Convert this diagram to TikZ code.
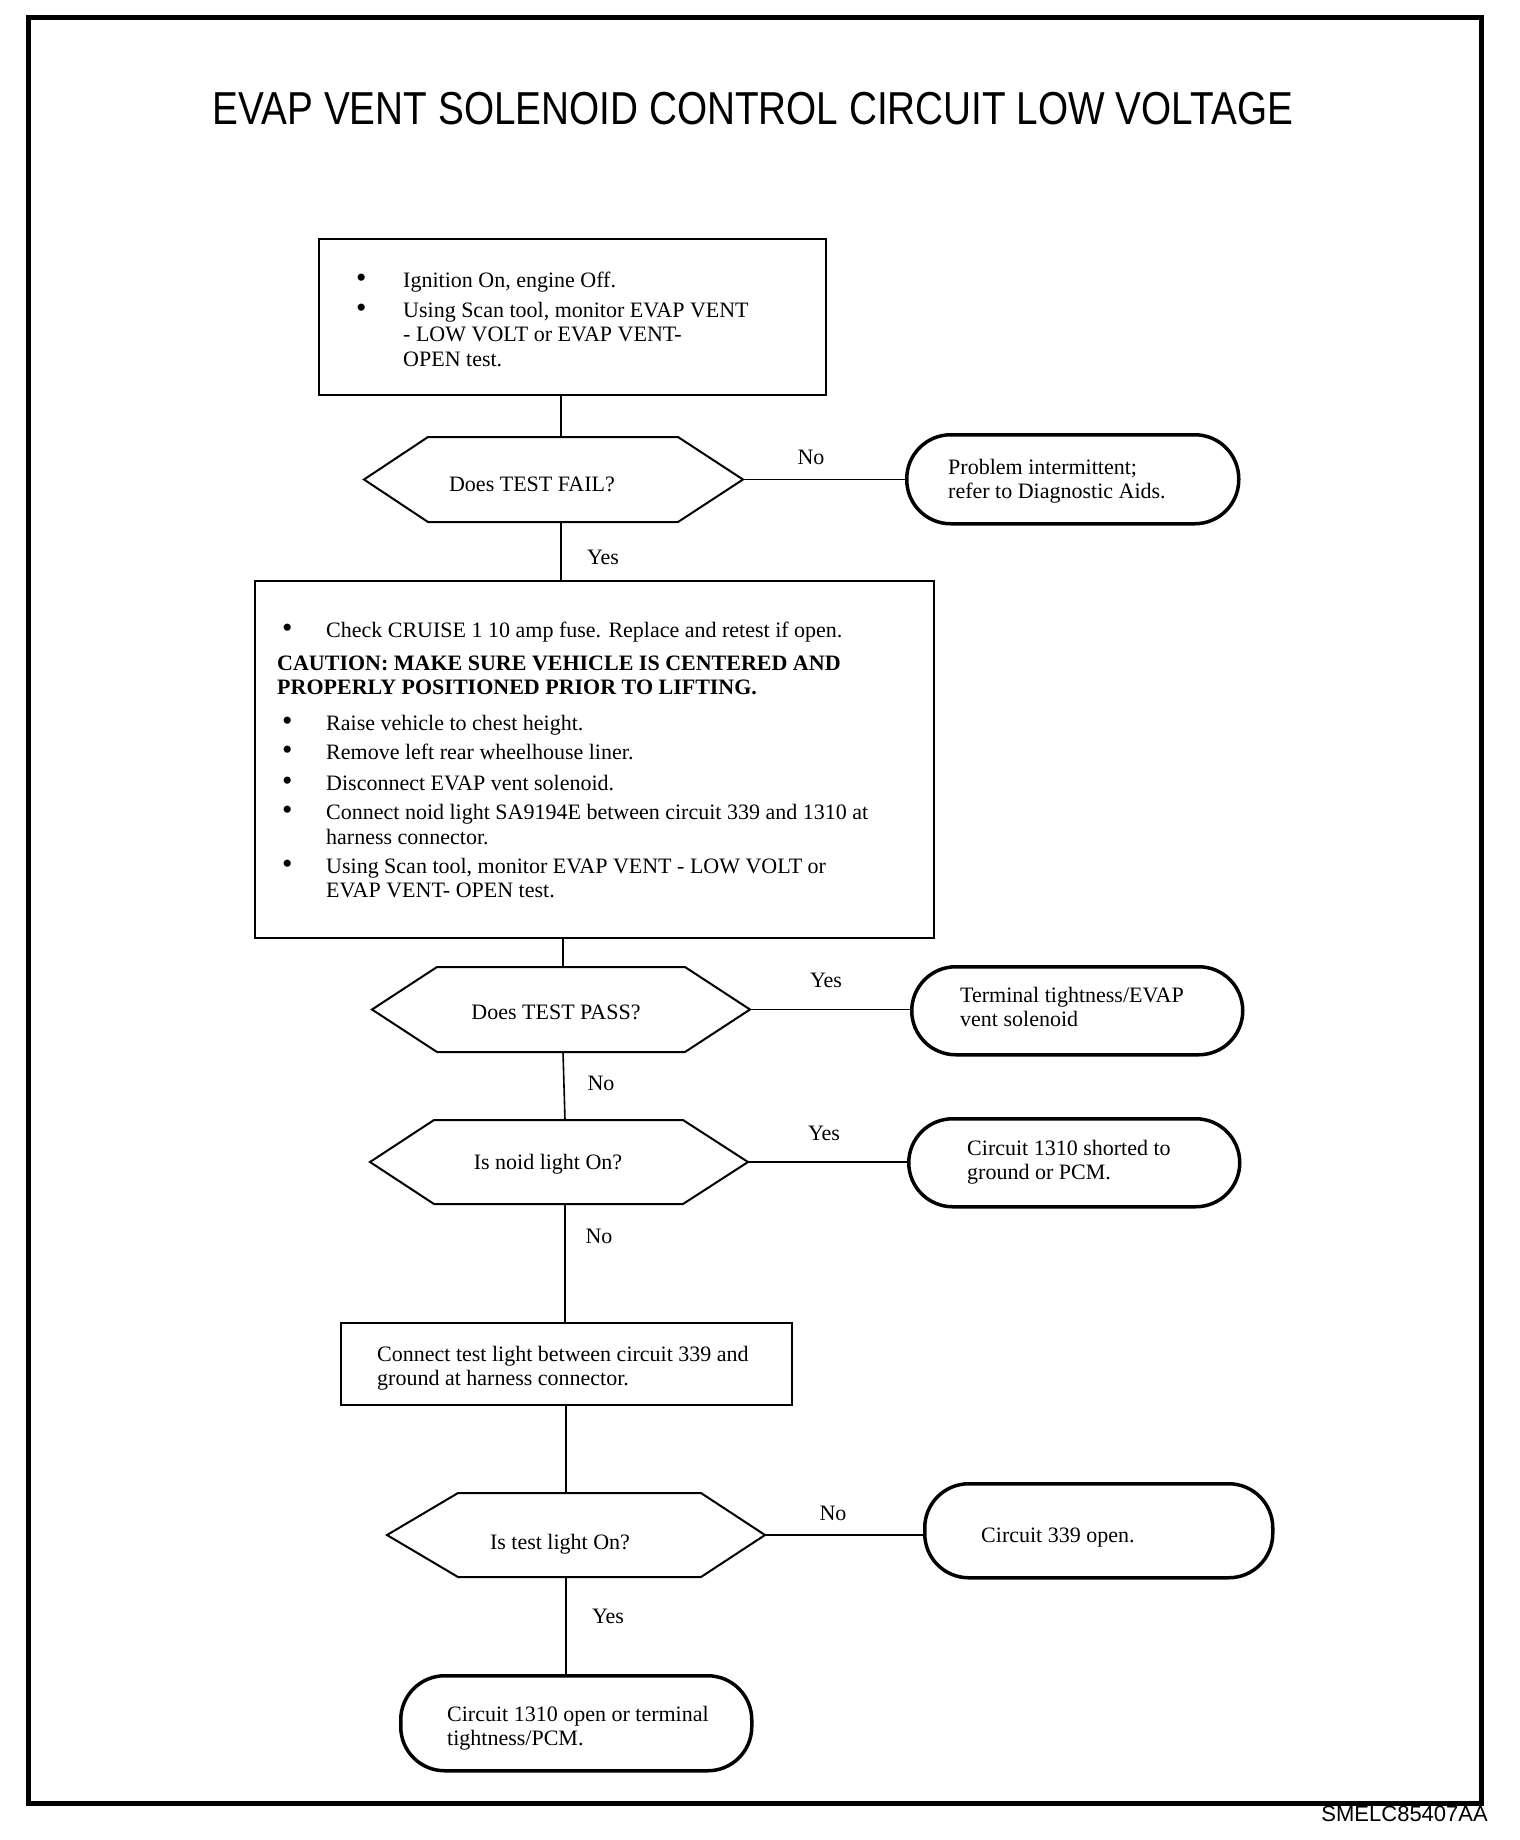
\documentclass[tikz,border=0pt]{standalone}
\usepackage{fontspec}
\setmainfont{Liberation Serif}
\newfontfamily\arialfam{Liberation Sans}
\newcommand\diagfont{\fontsize{22}{24.5}\selectfont}
\newcommand\titlefnt{\arialfam\fontsize{44}{50}\selectfont}
\newcommand\codefnt{\arialfam\fontsize{22}{24}\selectfont}
\newcommand\bul[1]{\makebox[#1][l]{\smash{\scalebox{1.35}{\textbullet}}}}
\newcommand\hexa[8]{%
  \draw[hexline] (#2,{(#6+#7)/2}) -- (#3,#6) -- (#4,#6) -- (#5,{(#6+#7)/2}) -- (#4,#7) -- (#3,#7) -- cycle;
  \coordinate (#1-w) at (#2,{(#6+#7)/2});
  \coordinate (#1-e) at (#5,{(#6+#7)/2});
  \coordinate (#1-n) at (#8,#6);
  \coordinate (#1-s) at (#8,#7);
}
\tikzset{
  frame/.style={line width=5pt},
  procbox/.style={draw, line width=2pt, rectangle, inner sep=0pt, anchor=north west},
  term/.style={draw, line width=3.5pt, rectangle, rounded corners=44pt, inner sep=0pt, anchor=north west},
  hexline/.style={line width=2pt, line join=miter},
  conn/.style={line width=1.6pt},
  txt/.style={inner sep=0pt, align=left, anchor=north west, font=\diagfont},
  lbl/.style={inner sep=0pt, anchor=base, font=\diagfont},
}
\begin{document}
\begin{tikzpicture}[x=1pt, y=-1pt]
\fill[white] (0,0) rectangle (1520,1840);
\useasboundingbox (0,0) rectangle (1520,1840);
\draw[frame] (28,17) rectangle (1481,1803);

\node[anchor=base, inner sep=0pt, font=\titlefnt] (title) at (753,124)
  {\scalebox{0.88}[1.05]{EVAP VENT SOLENOID CONTROL CIRCUIT LOW VOLTAGE}};
\node[anchor=base east, inner sep=0pt, font=\codefnt] (code) at (1488,1821) {SMELC85407AA};

% box 1
\node[procbox, minimum width=507pt, minimum height=156pt] (box1) at (318,238) {};
\node[txt] (box1-txt) at (356,271) {\rule{0pt}{16pt}\bul{47pt}Ignition On, engine Off.\\[5.5pt]
  \bul{47pt}Using Scan tool, monitor EVAP VENT\\
  \hspace*{47pt}- LOW VOLT or EVAP VENT-\\
  \hspace*{47pt}OPEN test.};

% decision 1
\hexa{d1}{364}{428}{678}{743}{437}{522}{561}
\node[lbl] (d1-txt) at (532,491) {Does TEST FAIL?};
\node[term, minimum width=332pt, minimum height=89pt] (t1) at (905,433) {};
\node[txt] (t1-txt) at (948,458) {\rule{0pt}{16pt}Problem intermittent;\\refer to Diagnostic Aids.};

% box 2
\node[procbox, minimum width=679pt, minimum height=357pt] (box2) at (254,580) {};
\node[txt] (box2-txt) at (282,621) {\rule{0pt}{16pt}\bul{44pt}Check CRUISE 1 10 amp fuse. Replace and retest if open.\\[8.5pt]
  \hspace*{-5pt}\textbf{CAUTION: MAKE SURE VEHICLE IS CENTERED AND}\\
  \hspace*{-5pt}\textbf{PROPERLY POSITIONED PRIOR TO LIFTING.}\\[11.5pt]
  \bul{44pt}Raise vehicle to chest height.\\[4.5pt]
  \bul{44pt}Remove left rear wheelhouse liner.\\[6.5pt]
  \bul{44pt}Disconnect EVAP vent solenoid.\\[4.5pt]
  \bul{44pt}Connect noid light SA9194E between circuit 339 and 1310 at\\
  \hspace*{44pt}harness connector.\\[4.5pt]
  \bul{44pt}Using Scan tool, monitor EVAP VENT - LOW VOLT or\\
  \hspace*{44pt}EVAP VENT- OPEN test.};

% decision 2
\hexa{d2}{372}{437}{685}{750}{967}{1052}{563}
\node[lbl] (d2-txt) at (556,1019) {Does TEST PASS?};
\node[term, minimum width=331pt, minimum height=88pt] (t2) at (910,965) {};
\node[txt] (t2-txt) at (960,986) {\rule{0pt}{16pt}Terminal tightness/EVAP\\vent solenoid};

% decision 3
\hexa{d3}{370}{434}{683}{748}{1120}{1204}{565}
\node[lbl] (d3-txt) at (548,1169) {Is noid light On?};
\node[term, minimum width=331pt, minimum height=88pt] (t3) at (907,1117) {};
\node[txt] (t3-txt) at (967,1139) {\rule{0pt}{16pt}Circuit 1310 shorted to\\ground or PCM.};

% box 3
\node[procbox, minimum width=451pt, minimum height=82pt] (box3) at (340,1322) {};
\node[txt] (box3-txt) at (377,1345) {\rule{0pt}{16pt}Connect test light between circuit 339 and\\ground at harness connector.};

% decision 4
\hexa{d4}{387}{458}{701}{765}{1493}{1577}{566}
\node[lbl] (d4-txt) at (560,1549) {Is test light On?};
\node[term, minimum width=348pt, minimum height=94pt] (t4) at (923,1482) {};
\node[anchor=base west, inner sep=0pt, font=\diagfont] (t4-txt) at (981,1542) {Circuit 339 open.};

% terminal 5
\node[term, minimum width=351pt, minimum height=95pt] (t5) at (399,1674) {};
\node[txt] (t5-txt) at (447,1705) {\rule{0pt}{16pt}Circuit 1310 open or terminal\\tightness/PCM.};

% connectors
\draw[conn] (box1.south -| d1-n) -- (d1-n);
\draw[conn] (d1-e) -- (d1-e -| t1.west);
\draw[conn] (d1-s) -- (d1-s |- box2.north);
\draw[conn] (box2.south -| d2-n) -- (d2-n);
\draw[conn] (d2-e) -- (d2-e -| t2.west);
\draw[conn] (d2-s) -- (d3-n);
\draw[conn] (d3-e) -- (d3-e -| t3.west);
\draw[conn] (d3-s) -- (d3-s |- box3.north);
\draw[conn] (box3.south -| d4-n) -- (d4-n);
\draw[conn] (d4-e) -- (d4-e -| t4.west);
\draw[conn] (d4-s) -- (d4-s |- t5.north);

% labels
\node[lbl] (l-d1-no) at (811,464) {No};
\node[lbl] (l-d1-yes) at (603,564) {Yes};
\node[lbl] (l-d2-yes) at (826,987) {Yes};
\node[lbl] (l-d2-no) at (601,1090) {No};
\node[lbl] (l-d3-yes) at (824,1140) {Yes};
\node[lbl] (l-d3-no) at (599,1243) {No};
\node[lbl] (l-d4-no) at (833,1520) {No};
\node[lbl] (l-d4-yes) at (608,1623) {Yes};
\end{tikzpicture}
\end{document}
